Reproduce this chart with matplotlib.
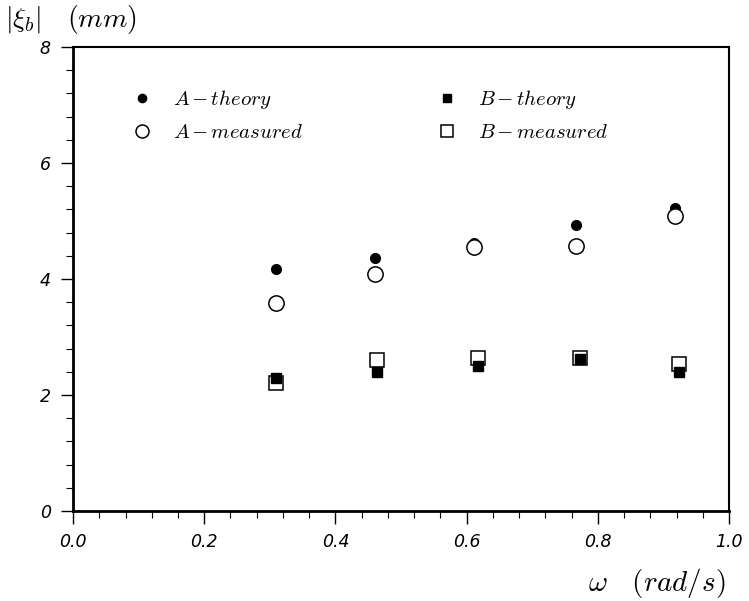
import matplotlib
matplotlib.use("Agg")
import matplotlib.pyplot as plt
from matplotlib.ticker import MultipleLocator

plt.rcParams['mathtext.fontset'] = 'cm'

# frequencies (rad/s) and amplitudes (mm)
w_a = [0.309, 0.460, 0.612, 0.767, 0.918]
w_b = [0.310, 0.463, 0.617, 0.773, 0.924]
a_theory = [4.17, 4.37, 4.62, 4.93, 5.23]
a_measured = [3.59, 4.09, 4.55, 4.57, 5.09]
b_theory = [2.30, 2.40, 2.50, 2.62, 2.40]
b_measured = [2.20, 2.60, 2.63, 2.63, 2.53]

fig = plt.figure(figsize=(7.49, 6.01), dpi=100)
ax = fig.add_axes([0.0975, 0.1498, 0.8758, 0.772])

ax.plot(w_a, a_theory, 'o', color='black', ms=7, label=r'$A\,{-}\,theory$')
ax.plot(w_a, a_measured, 'o', mfc='white', mec='black', mew=1.1, ms=11,
        label=r'$A\,{-}\,measured$')
ax.plot(w_b, b_measured, 's', mfc='white', mec='black', mew=1.1, ms=10.5,
        label=r'$B\,{-}\,measured$')
ax.plot(w_b, b_theory, 's', color='black', ms=6.5, label=r'$B\,{-}\,theory$')

ax.set_xlim(0, 1.0)
ax.set_ylim(0, 8)
ax.xaxis.set_minor_locator(MultipleLocator(0.04))
ax.yaxis.set_minor_locator(MultipleLocator(0.4))
ax.set_xticks([0, 0.2, 0.4, 0.6, 0.8, 1.0])
ax.set_xticklabels(['0.0', '0.2', '0.4', '0.6', '0.8', '1.0'])
ax.set_yticks([0, 2, 4, 6, 8])
ax.set_yticklabels(['0', '2', '4', '6', '8'])

ax.tick_params(which='major', direction='out', length=9, width=1.0,
               labelsize=12.5, pad=7, top=False, right=False)
ax.tick_params(which='minor', direction='out', length=5, width=0.8,
               top=False, right=False)
for lab in ax.get_xticklabels() + ax.get_yticklabels():
    lab.set_fontstyle('italic')
for s in ax.spines.values():
    s.set_linewidth(1.5)
ax.spines['left'].set_linewidth(2)
ax.spines['bottom'].set_linewidth(2)

h, l = ax.get_legend_handles_labels()
order = [0, 1, 3, 2]
ax.legend([h[i] for i in order], [l[i] for i in order], ncol=2,
          loc='upper left', bbox_to_anchor=(0.057, 0.951), frameon=False,
          fontsize=15, handletextpad=0.9, columnspacing=6.3,
          labelspacing=0.5, handlelength=1.2, markerscale=0.85)

fig.text(0.007, 0.968, r'$|\xi_b|\ \ \ (mm)$', fontsize=20, va='center', ha='left')
fig.text(0.969, 0.03, r'$\omega\ \ \ (rad/s)$', fontsize=21, va='center', ha='right')

fig.savefig('out.png', dpi=100)
